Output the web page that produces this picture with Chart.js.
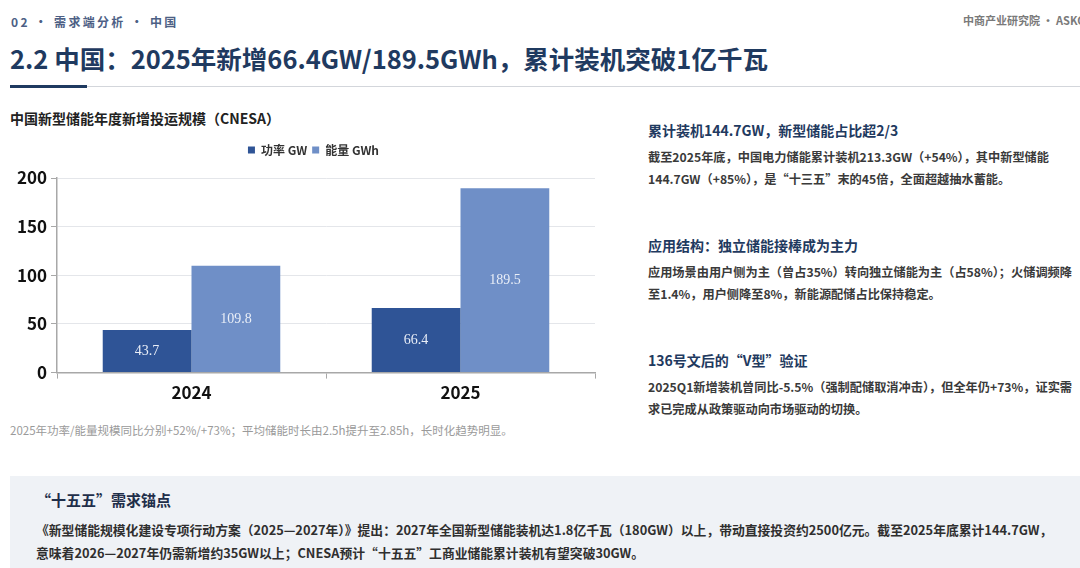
<!DOCTYPE html>
<html>
<head>
<meta charset="utf-8">
<script src="https://cdn.jsdelivr.net/npm/chart.js@4/dist/chart.umd.min.js"></script>
<style>
  html, body { margin: 0; padding: 0; }
  body {
    width: 1080px; height: 568px; overflow: hidden; position: relative;
    background: #ffffff;
    font-family: "Noto Sans CJK SC", "Noto Sans", sans-serif;
  }
  .t { position: absolute; white-space: nowrap; }
  .crumb { left: 11px; top: 12px; font-size: 12px; line-height: 20px; font-weight: bold; color: #4d5f85; letter-spacing: 2.3px; }
  .brand { left: 963px; top: 11px; font-size: 11px; line-height: 18px; font-weight: bold; color: #7a7a7a; }
  .title { left: 10px; top: 40px; font-size: 25.5px; line-height: 36px; font-weight: bold; color: #1f3a60; }
  .rule { position: absolute; left: 10px; right: 0; top: 86px; height: 1px; background: #d3d6db; }
  .rule-dark { position: absolute; left: 10px; width: 77px; top: 85px; height: 3px; background: #1f3a60; }
  .ctitle { left: 10px; top: 108px; font-size: 14px; line-height: 20px; font-weight: bold; color: #222; }
  .note { left: 10px; top: 421px; font-size: 11.5px; line-height: 18px; color: #9a9a9a; }
  .h { left: 648px; font-size: 14px; line-height: 20px; font-weight: bold; color: #1f3a60; }
  .p { left: 648px; font-size: 12.2px; line-height: 22px; font-weight: bold; color: #3a3a3a; }
  .panel { position: absolute; left: 10px; right: 0; top: 476px; bottom: 0; background: #eff2f6; }
  .ph { left: 36px; top: 490px; font-size: 15px; line-height: 20px; font-weight: bold; color: #1f2f4a; }
  .pp { left: 36px; top: 519px; font-size: 12.8px; line-height: 22.5px; font-weight: bold; color: #2f2f2f; }
  #wrap { position: absolute; left: 0; top: 135px; width: 620px; height: 272px; }
</style>
</head>
<body>
<div class="t crumb">02 · 需求端分析 · 中国</div>
<div class="t brand">中商产业研究院 · ASKCI</div>
<div class="t title">2.2 中国：2025年新增66.4GW/189.5GWh，累计装机突破1亿千瓦</div>
<div class="rule"></div>
<div class="rule-dark"></div>

<div class="t ctitle">中国新型储能年度新增投运规模（CNESA）</div>
<div id="wrap"><canvas id="storageChart"></canvas></div>
<div class="t note">2025年功率/能量规模同比分别+52%/+73%；平均储能时长由2.5h提升至2.85h，长时化趋势明显。</div>

<div class="t h" style="top:120px">累计装机144.7GW，新型储能占比超2/3</div>
<div class="t p" style="top:146px">截至2025年底，中国电力储能累计装机213.3GW（+54%），其中新型储能<br>144.7GW（+85%），是“十三五”末的45倍，全面超越抽水蓄能。</div>

<div class="t h" style="top:235px">应用结构：独立储能接棒成为主力</div>
<div class="t p" style="top:261px">应用场景由用户侧为主（曾占35%）转向独立储能为主（占58%）；火储调频降<br>至1.4%，用户侧降至8%，新能源配储占比保持稳定。</div>

<div class="t h" style="top:350px">136号文后的“V型”验证</div>
<div class="t p" style="top:376px">2025Q1新增装机曾同比-5.5%（强制配储取消冲击），但全年仍+73%，证实需<br>求已完成从政策驱动向市场驱动的切换。</div>

<div class="panel"></div>
<div class="t ph">“十五五”需求锚点</div>
<div class="t pp">《新型储能规模化建设专项行动方案（2025—2027年）》提出：2027年全国新型储能装机达1.8亿千瓦（180GW）以上，带动直接投资约2500亿元。截至2025年底累计144.7GW，<br>意味着2026—2027年仍需新增约35GW以上；CNESA预计“十五五”工商业储能累计装机有望突破30GW。</div>

<script>
// values
const years = ['2024', '2025'];
const powerGW = [43.7, 66.4];
const energyGWh = [109.8, 189.5];
const seriesNames = ['功率 GW', '能量 GWh'];
const yMax = 200;
const yStep = 50;

const darkBlue = '#2f5496';
const lightBlue = '#6f8fc7';

// white value labels in the middle of each bar
const barValueLabels = {
    id: 'barValueLabels',
    afterDatasetsDraw(chart) {
        const ctx = chart.ctx;
        ctx.save();
        ctx.font = '14px "Liberation Serif", "DejaVu Serif", serif';
        ctx.fillStyle = '#e9eef7';
        ctx.textAlign = 'center';
        ctx.textBaseline = 'middle';
        chart.data.datasets.forEach((ds, i) => {
            const meta = chart.getDatasetMeta(i);
            meta.data.forEach((bar, j) => {
                const p = bar.getProps(['x', 'y', 'base'], true);
                ctx.fillText(ds.data[j].toFixed(1), p.x, (p.y + p.base) / 2);
            });
        });
        ctx.restore();
    }
};

// extra room between the legend and the plot, legend nudged right
const legendGap = {
    id: 'legendGap',
    beforeInit(chart) {
        const origFit = chart.legend.fit;
        chart.legend.fit = function() {
            origFit.bind(chart.legend)();
            this.height += 12;
        };
    },
    afterLayout(chart) {
        chart.legend.left += 32;
    }
};

const ctx = document.getElementById('storageChart').getContext('2d');
new Chart(ctx, {
    type: 'bar',
    data: {
        labels: years,
        datasets: [
            {
                label: seriesNames[0],
                data: powerGW,
                backgroundColor: darkBlue,
                categoryPercentage: 0.66,
                barPercentage: 1.0
            },
            {
                label: seriesNames[1],
                data: energyGWh,
                backgroundColor: lightBlue,
                categoryPercentage: 0.66,
                barPercentage: 1.0
            }
        ]
    },
    options: {
        responsive: true,
        maintainAspectRatio: false,
        animation: false,
        layout: {
            padding: { left: 0, right: 25, top: 4, bottom: 0 }
        },
        plugins: {
            legend: {
                position: 'top',
                labels: {
                    boxWidth: 7,
                    boxHeight: 7,
                    padding: 5,
                    color: '#333',
                    font: { family: '"Noto Sans CJK SC", sans-serif', size: 12, weight: 'bold' }
                }
            },
            tooltip: { enabled: false }
        },
        scales: {
            x: {
                grid: {
                    offset: true,
                    drawOnChartArea: false,
                    drawTicks: true,
                    tickLength: 6,
                    tickColor: '#a8a8a8'
                },
                border: { color: '#a8a8a8', width: 1.5 },
                ticks: {
                    color: '#111',
                    padding: 4,
                    font: { family: '"Noto Sans CJK SC", sans-serif', size: 17, weight: 'bold' }
                }
            },
            y: {
                min: 0,
                max: yMax,
                afterFit(scale) {
                    scale.width = 57;
                },
                grid: {
                    color: '#e4e6ea',
                    tickLength: 6,
                    tickColor: '#a8a8a8'
                },
                border: { color: '#a8a8a8', width: 1.5 },
                ticks: {
                    stepSize: yStep,
                    color: '#111',
                    padding: 4,
                    font: { family: '"Noto Sans CJK SC", sans-serif', size: 17, weight: 'bold' }
                }
            }
        }
    },
    plugins: [barValueLabels, legendGap]
});
</script>
</body>
</html>
